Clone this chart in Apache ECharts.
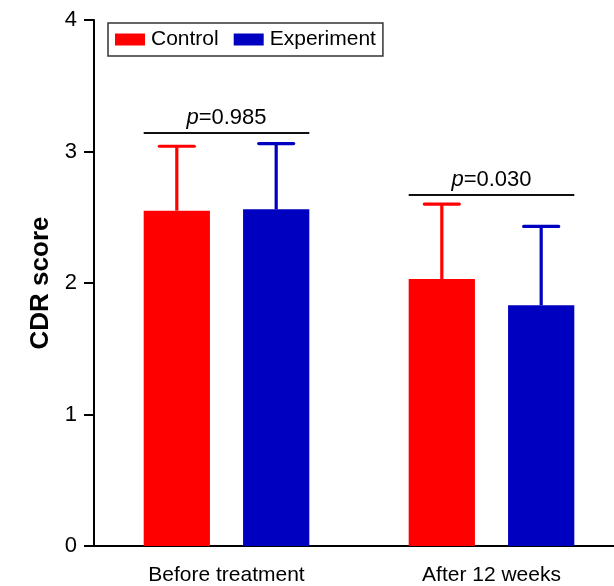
<!DOCTYPE html>
<html>
<head>
<meta charset="utf-8">
<script src="https://cdn.jsdelivr.net/npm/echarts@6/dist/echarts.min.js"></script>
<style>html,body{margin:0;padding:0;background:#fff;overflow:hidden;}#c{width:640px;height:586px;}</style>
</head>
<body>
<div id="c"></div>
<script>
const categories = ['Before treatment', 'After 12 weeks'];
const seriesNames = ['Control', 'Experiment'];
const controlMean = [2.55, 2.03];
const controlUpper = [3.04, 2.60];
const experimentMean = [2.56, 1.83];
const experimentUpper = [3.06, 2.43];
const pLineLevel = [3.14, 2.67];
const pValues = ['0.985', '0.030'];
const yTicks = [0, 1, 2, 3, 4];

const colors = ['#ff0000', '#0000c0'];
const BAR_FRAC = 0.25;           // bar width as fraction of band
const OFFSET_FRAC = 0.1875;      // bar center offset from band center
const CAP_FRAC = 0.066;          // half cap width
const PLINE_FRAC = 0.3125;       // half span of p line
const FONT = 'Liberation Sans, Arial, sans-serif';

const errData = [];
categories.forEach((c, i) => {
  errData.push([i, controlMean[i], controlUpper[i], 0]);
  errData.push([i, experimentMean[i], experimentUpper[i], 1]);
});
const pData = categories.map((c, i) => [i, pLineLevel[i], pValues[i]]);

const chart = echarts.init(document.getElementById('c'), null, {renderer: 'canvas'});
chart.setOption({
  animation: false,
  backgroundColor: '#ffffff',
  textStyle: {fontFamily: FONT, color: '#000'},
  legend: {
    data: seriesNames,
    left: 108, top: 23,
    orient: 'horizontal',
    icon: 'rect',
    itemWidth: 30, itemHeight: 12, itemGap: 15,
    padding: [6, 7, 6, 7],
    borderColor: '#333', borderWidth: 1.5, borderRadius: 0,
    textStyle: {fontSize: 21, color: '#000', padding: [0, 0, 0, 1]}
  },
  grid: {left: 94, top: 20, width: 530, height: 530, containLabel: false},
  xAxis: {
    type: 'category',
    data: categories,
    axisLine: {lineStyle: {color: '#000', width: 2}},
    axisTick: {alignWithLabel: true, length: 9, lineStyle: {color: '#000', width: 2}},
    axisLabel: {fontSize: 21, color: '#000', margin: 19}
  },
  yAxis: {
    type: 'value',
    min: yTicks[0], max: yTicks[yTicks.length - 1], interval: 1,
    name: 'CDR score',
    nameLocation: 'middle',
    nameGap: 39,
    nameTextStyle: {fontSize: 26, fontWeight: 'bold', color: '#000'},
    axisLine: {show: true, lineStyle: {color: '#000', width: 2}},
    axisTick: {show: true, length: 10, lineStyle: {color: '#000', width: 2}},
    axisLabel: {fontSize: 22, color: '#000', margin: 17},
    splitLine: {show: false}
  },
  series: [
    {
      name: seriesNames[0], type: 'bar', data: controlMean,
      barWidth: (BAR_FRAC * 100) + '%', barGap: '50%',
      itemStyle: {color: colors[0]}, z: 3
    },
    {
      name: seriesNames[1], type: 'bar', data: experimentMean,
      barWidth: (BAR_FRAC * 100) + '%', barGap: '50%',
      itemStyle: {color: colors[1]}, z: 3
    },
    {
      name: 'errorbars', type: 'custom', data: errData, z: 2,
      encode: {x: 0, y: [1, 2]},
      renderItem: function (params, api) {
        const idx = api.value(0);
        const band = api.size([1, 0])[0];
        const s = api.value(3);
        const p0 = api.coord([idx, api.value(1)]);
        const p1 = api.coord([idx, api.value(2)]);
        const x = p0[0] + (s === 0 ? -1 : 1) * OFFSET_FRAC * band;
        const half = CAP_FRAC * band;
        const st = {stroke: colors[s], lineWidth: 3.2, lineCap: 'round'};
        return {
          type: 'group',
          children: [
            {type: 'line', shape: {x1: x, y1: p0[1], x2: x, y2: p1[1]}, style: {stroke: colors[s], lineWidth: 3.2}},
            {type: 'line', shape: {x1: x - half, y1: p1[1], x2: x + half, y2: p1[1]}, style: st}
          ]
        };
      }
    },
    {
      name: 'pvalues', type: 'custom', data: pData, z: 4,
      encode: {x: 0, y: 1},
      renderItem: function (params, api) {
        const idx = api.value(0);
        const band = api.size([1, 0])[0];
        const p = api.coord([idx, api.value(1)]);
        const half = PLINE_FRAC * band;
        const txt = pData[params.dataIndex][2];
        return {
          type: 'group',
          children: [
            {type: 'line', shape: {x1: p[0] - half, y1: p[1], x2: p[0] + half, y2: p[1]},
             style: {stroke: '#111', lineWidth: 2}},
            {type: 'text', x: p[0], y: p[1] - 4,
             style: {
               text: '{i|p}=' + txt,
               rich: {i: {fontStyle: 'italic', fontSize: 22, fontFamily: FONT, fill: '#000'}},
               fontSize: 22, fontFamily: FONT,
               fill: '#000', align: 'center', verticalAlign: 'bottom'
             }}
          ]
        };
      }
    }
  ]
});
</script>
</body>
</html>
